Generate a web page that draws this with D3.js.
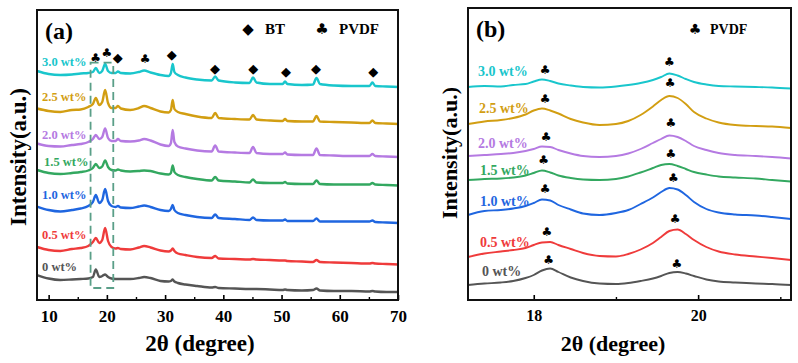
<!DOCTYPE html>
<html><head><meta charset="utf-8">
<script src="https://cdn.jsdelivr.net/npm/d3@7"></script>
<style>
body{margin:0;background:#fff}
svg{display:block}
text{font-family:"Liberation Serif","Times New Roman","DejaVu Serif",serif;font-weight:bold}
</style>
</head><body>
<svg id="chart" width="798" height="363"></svg>
<script>
// ---------- DATA ----------
const seriesLabels = ["0 wt%","0.5 wt%","1.0 wt%","1.5 wt%","2.0 wt%","2.5 wt%","3.0 wt%"];

// Panel (a): 2θ grid (degree) and intensities (a.u.)
const aTheta = [8,10,12,14,15.5,16.8,17.6,18.1,18.7,19.2,19.7,20.2,20.8,21.5,21.9,22.4,24,25.5,26.4,27.5,29.2,30.6,31.0,31.3,31.6,32.2,33.5,35.5,38.0,38.6,39.2,42,44.5,45.1,45.7,48,50.2,50.6,51.0,53.5,55.4,56,56.6,59,62,65.1,65.6,66.1,68,70];
const aWt0  = [25,21.5,20,20.5,21,21.5,23,30.5,23,24,25.5,23,21.5,21,21,21,21,22,23,22,19,18.5,19,20.5,18.5,17,15.5,14,12.5,13,12,11.5,11,11,11,10.5,10,10.5,10,9.5,10,11.5,9.5,9,9,8.5,9,8.5,8,8];
const aWt05 = [53,50,49,51,52,54,58,62,57,60,72,59,53,51.5,52,51,50.5,52.5,54,52.5,49.5,48.5,49.5,51.5,49,46.5,45,43,42,44,41.5,41,40.5,41,40.5,40,39.5,39.5,39,38.5,38,40,38,37.5,37,36.5,37,36.5,36,35.5];
const aWt10 = [93.5,90,88.5,90,91.5,94,98,105,97,100,111,99,94,93,94,92.5,92,93.5,94.5,93,90,89,91,95,90,87,85,83,82,85.5,82,81,80,82.5,80,79.5,79.5,80.5,79,79,79,81.5,78.5,78.5,78.5,78.5,79.5,78,77.5,77];
const aWt15 = [130,127,126,127,128,129.5,132,136,132,133.5,139.5,133,130,129.5,130.5,129.5,128.5,129,129.5,129,126.5,125.5,127,134.5,128,125,123,121,119.5,123,119.5,118.5,117.5,120.5,117.5,117,117,118,116.5,116,116,119.5,116,115.5,115.5,115.5,117,115.5,115,114.5];
const aWt20 = [156.5,154,153.5,155,156,158,161,165,161,163,171.5,162,159,159,161,159,158.5,159.5,161,159.5,155.5,154,157,170,158,153.5,151.5,149.5,148.5,154.5,148.5,147.5,147,153,147,146,146,147.5,145.5,145,145,151.5,145,144.5,144,144,146,144,143.5,143];
const aWt25 = [191.5,189,188,190,190.5,193,196,202,195,198,210,197,192,192,194,191.5,190,192,194,192,188.5,187.5,190,200,191,188,186,183.5,182,187,182,181,180.5,185,180.5,179.5,179,181,179,178.5,178.5,184,178.5,178,177.5,177,179.5,177,176.5,176];
const aWt30 = [229,226,225,225.5,226.5,227,228,232,227,229,236,229,227,227,228.5,227,226.5,228,229.5,227.5,225,224,227,236,228,225,222.5,220.5,219.5,223.5,219.5,217.5,217,222.5,217.5,216,216,218.5,216,215,215.5,222,216,214.5,214,214,217.5,214,213.5,213];

// Panel (b): zoomed 2θ grid and intensities
const bTheta = [17.2,17.4,17.6,17.75,17.9,18.0,18.1,18.2,18.3,18.45,18.6,18.8,19.0,19.15,19.3,19.45,19.55,19.65,19.75,19.85,19.95,20.1,20.25,20.45,20.7,20.9,21.13];
const bWt0  = [15,16.5,17.5,19,22,25,29.5,31.5,28,22.5,19,16.5,16,17,19,21.5,24,27,28,26.5,24,20.5,18.5,17.5,16.5,16,15];
const bWt05 = [43,46.5,48.5,50,52,55,57.5,58,55,51,47,44,43.5,46,50.5,57,63,69,70.5,66,60,53,48.5,45.5,43.5,42,40];
const bWt10 = [85,89,90,91.5,94,97,100.5,99.5,95,90.5,86.5,85,87,90,96,102.5,108,112,110.5,105,98,91,87.5,85.5,84.5,83,81];
const bWt15 = [120,121,121.5,122.5,124.5,127,129.5,127.5,124.5,122,120.5,120,121,123.5,127.5,132,135,136,134,131,128,125.5,123.5,122.5,121.5,120,118.5];
const bWt20 = [144,145,146,147,149,151,153.5,153,150,146.5,144,143,144,146.5,151,157,161,164.5,163,159,154,150,147,145,144,143,141.5];
const bWt25 = [176,178.5,180,182,185.5,189.5,191.5,189.5,186.5,181,177.5,175,176,179,185,193.5,200,204,202,196,188,181.5,177.5,175,174,173.5,172];
const bWt30 = [213,214,213.5,215,216,218.5,220.5,219,216.5,214.5,213,212.5,213.5,215,217,220,223,226.5,224.5,221,218,215.5,214,213.5,213,212.5,211.5];

// Peak markers (type: "BT" diamond, "PVDF" club)
const aPeakTheta = [18.05,20.0,21.86,26.55,31.13,38.57,45.15,50.76,55.9,65.75];
const aPeakInt   = [241.7,247.3,242.3,241,245.7,231.7,231.7,229,231.7,229];
const aPeakType  = ["PVDF","PVDF","BT","PVDF","BT","BT","BT","BT","BT","BT"];
const bPeakTheta = [18.14,19.65,18.14,19.66,18.15,19.67,18.12,19.67,18.14,19.70,18.16,19.72,18.18,19.74];
const bPeakInt   = [230,237.7,200.7,216.7,162.7,177.3,140,146,110.7,121.7,68.3,80.7,40,36];

// Zoom region shown in (a)
const zoomTheta = [17.2, 21.1];
const zoomInt = [12, 237.3];

// Axis ticks
const aTicks = [10,20,30,40,50,60,70];
const aMinorTicks = [15,25,35,45,55,65];
const bTicks = [18,20];
const bMinorTicks = [19,21];

// ---------- STYLE ----------
const colors = ["#555555","#ef3b3b","#1f66e0","#33a860","#b57ae2","#d29e12","#19c6cc"];
const svg = d3.select("#chart");

function drawPanel(o){
  const g = svg.append("g");
  const x = d3.scaleLinear().domain(o.xDomain).range([o.left,o.right]);
  const y = d3.scaleLinear().domain([0,290]).range([300,10]);

  const line = d3.line().x((d,i)=>x(o.theta[i])).y(d=>y(d)).curve(d3.curveMonotoneX);
  o.series.forEach((s,i)=>{
    g.append("path").attr("d",line(s)).attr("fill","none")
      .attr("stroke",colors[i]).attr("stroke-width",o.lw).attr("stroke-linejoin","round");
  });

  o.series.forEach((s,i)=>{
    g.append("text").attr("x",o.labelX[i]).attr("y",o.labelY[i])
      .attr("fill",colors[i]).attr("font-size",o.labelSize).text(seriesLabels[i]);
  });

  const axis = d3.axisBottom(x).tickValues(o.ticks).tickSize(-5).tickPadding(10).tickFormat(d3.format("d"));
  const ag = g.append("g").attr("transform",`translate(0,${o.bottom})`).call(axis);
  ag.attr("font-family",null);
  ag.select(".domain").remove();
  ag.selectAll("line").attr("stroke","#000").attr("stroke-width",1.6);
  ag.selectAll("text").attr("font-size",o.tickSize).attr("fill","#000");
  const mg = g.append("g").attr("transform",`translate(0,${o.bottom})`)
    .call(d3.axisBottom(x).tickValues(o.minor).tickSize(-3).tickFormat(""));
  mg.select(".domain").remove();
  mg.selectAll("line").attr("stroke","#000").attr("stroke-width",1.4);

  g.append("rect").attr("x",o.left).attr("y",o.top).attr("width",o.right-o.left)
    .attr("height",o.bottom-o.top).attr("fill","none").attr("stroke","#111").attr("stroke-width",2);

  g.append("text").attr("x",o.titleX).attr("y",351).attr("text-anchor","middle")
    .attr("font-size",o.titleSize).text("2θ (degree)");
  g.append("text").attr("transform",`translate(${o.yTitleX},${o.yTitleY}) rotate(-90)`)
    .attr("text-anchor","middle").attr("font-size",o.yTitleSize).text("Intensity(a.u.)");

  g.append("text").attr("x",o.left+8).attr("y",o.top+29).attr("font-size",24).text(o.tag);
  return {g,x,y};
}

// Panel (a)
const A = drawPanel({
  xDomain:[8,70], left:37, right:398, top:10, bottom:300,
  theta:aTheta, series:[aWt0,aWt05,aWt10,aWt15,aWt20,aWt25,aWt30], lw:2.4,
  labelX:[42,42,42,44,42,42,42], labelY:[271,239,199,166,139,101,66], labelSize:12.5,
  ticks:aTicks, minor:aMinorTicks, tickSize:17, titleSize:23, titleX:200,
  yTitleX:26, yTitleY:157, yTitleSize:23, tag:"(a)"
});
A.g.append("rect")
  .attr("x",A.x(zoomTheta[0])).attr("y",A.y(zoomInt[1]))
  .attr("width",A.x(zoomTheta[1])-A.x(zoomTheta[0])).attr("height",A.y(zoomInt[0])-A.y(zoomInt[1]))
  .attr("fill","none").attr("stroke","#5a9f88").attr("stroke-width",1.8).attr("stroke-dasharray","8,5");
aPeakTheta.forEach((t,i)=>{
  A.g.append("text").attr("x",A.x(t)).attr("y",A.y(aPeakInt[i])).attr("text-anchor","middle")
    .attr("dominant-baseline","central").style("font-family","'DejaVu Sans',sans-serif")
    .attr("font-size",aPeakType[i]==="BT"?13:12).text(aPeakType[i]==="BT"?"◆":"♣");
});
A.g.append("text").attr("x",248).attr("y",29).attr("text-anchor","middle").attr("dominant-baseline","central")
  .style("font-family","'DejaVu Sans',sans-serif").attr("font-size",15).text("◆");
A.g.append("text").attr("x",265).attr("y",34).attr("font-size",15).text("BT");
A.g.append("text").attr("x",322).attr("y",29).attr("text-anchor","middle").attr("dominant-baseline","central")
  .style("font-family","'DejaVu Sans',sans-serif").attr("font-size",15).text("♣");
A.g.append("text").attr("x",339).attr("y",34).attr("font-size",15).text("PVDF");

// Panel (b)
const B = drawPanel({
  xDomain:[17.2,21.13], left:468, right:791, top:8, bottom:300,
  theta:bTheta, series:[bWt0,bWt05,bWt10,bWt15,bWt20,bWt25,bWt30], lw:1.9,
  labelX:[482,480,480,480,478,479,478], labelY:[276,246.5,205.5,175,147.5,113,76], labelSize:14,
  ticks:bTicks, minor:bMinorTicks, tickSize:16, titleSize:22, titleX:613,
  yTitleX:457, yTitleY:153, yTitleSize:22, tag:"(b)"
});
bPeakTheta.forEach((t,i)=>{
  B.g.append("text").attr("x",B.x(t)).attr("y",B.y(bPeakInt[i])).attr("text-anchor","middle")
    .attr("dominant-baseline","central").style("font-family","'DejaVu Sans',sans-serif")
    .attr("font-size",12).text("♣");
});
B.g.append("text").attr("x",695).attr("y",29).attr("text-anchor","middle").attr("dominant-baseline","central")
  .style("font-family","'DejaVu Sans',sans-serif").attr("font-size",14).text("♣");
B.g.append("text").attr("x",710).attr("y",34).attr("font-size",14).text("PVDF");
</script>
</body></html>
